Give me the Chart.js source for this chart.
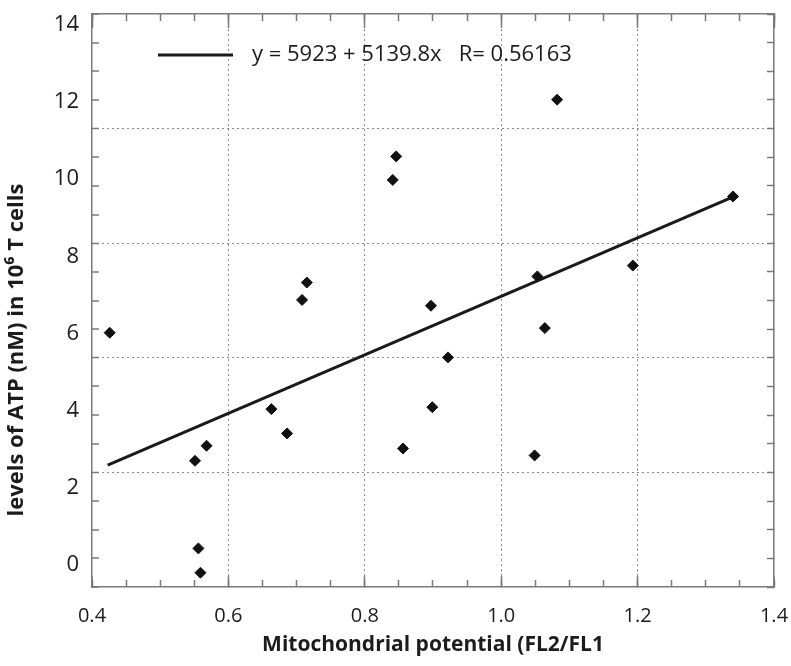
<!DOCTYPE html>
<html>
<head>
<meta charset="utf-8">
<title>ATP vs mitochondrial potential</title>
<script src="https://cdn.jsdelivr.net/npm/chart.js@4.4.1/dist/chart.umd.min.js"></script>
<style>
  body { margin: 0; background: #fff; }
  #wrap { width: 791px; height: 666px; }
</style>
</head>
<body>
<div id="wrap"><canvas id="myChart" width="791" height="666"></canvas></div>
<script>
// mitochondrial potential (FL2/FL1) of each sample
const potential = [0.426, 0.551, 0.568, 0.556, 0.559, 0.663, 0.686, 0.708, 0.715, 0.841, 0.846,
  0.856, 0.897, 0.899, 0.922, 1.049, 1.053, 1.064, 1.082, 1.193, 1.340];
// ATP level of the same samples, read against the printed axis numbers
const atp = [6.02, 2.70, 3.09, 0.43, -0.20, 4.04, 3.41, 6.87, 7.32, 9.98, 10.59,
  3.02, 6.72, 4.09, 5.38, 2.84, 7.48, 6.14, 12.06, 7.76, 9.55];

// the fitted line, its two ends
const fitX = [0.423, 1.340];
const fitY = [2.59, 9.54];
const fitLabel = 'y = 5923 + 5139.8x   R= 0.56163';

// tick labels
const xTicks = [0.4, 0.6, 0.8, 1.0, 1.2, 1.4];
const yTicks = [0, 2, 4, 6, 8, 10, 12, 14];

// y range of the frame, in the units of the printed numbers
const Y_MIN = -0.57;
const Y_MAX = 14.28;

const axisGray = '#7a7a7a';
const gridGray = '#8a8a8a';
const textColor = '#1c1c1c';

Chart.defaults.font.family = "'Open Sans', sans-serif";

// draws the legend line + equation inside the frame
const fitLegend = {
  id: 'fitLegend',
  afterDatasetsDraw(chart) {
    const ctx = chart.ctx;
    const area = chart.chartArea;
    const ds = chart.data.datasets[1];
    const x0 = area.left + 66;
    const y0 = area.top + 41;
    ctx.save();
    ctx.strokeStyle = ds.borderColor;
    ctx.lineWidth = ds.borderWidth;
    ctx.beginPath();
    ctx.moveTo(x0, y0);
    ctx.lineTo(x0 + 75, y0);
    ctx.stroke();
    ctx.fillStyle = textColor;
    ctx.font = "22px 'Open Sans', sans-serif";
    ctx.textBaseline = 'middle';
    ctx.fillText(ds.label, x0 + 94, y0);
    ctx.restore();
  }
};

function innerLine(lo, hi) {
  return function (ctx) {
    if (!ctx.tick) return 0;
    const v = ctx.tick.value;
    return (v > lo + 1e-6 && v < hi - 1e-6) ? 1 : 0;
  };
}

// keep the frame where the axes put it, no extra room for end labels
function noPad(s) {
  s.paddingLeft = 0;
  s.paddingRight = 0;
  s.paddingTop = 0;
  s.paddingBottom = 0;
}

const scatterData = potential.map((x, i) => ({ x: x, y: atp[i] }));
const fitData = fitX.map((x, i) => ({ x: x, y: fitY[i] }));

const config = {
  type: 'scatter',
  data: {
    datasets: [{
      label: 'samples',
      data: scatterData,
      pointStyle: 'rectRot',
      pointRadius: 5.5,
      pointHoverRadius: 5.5,
      backgroundColor: '#111',
      borderColor: '#111',
      borderWidth: 1,
      order: 0
    }, {
      label: fitLabel,
      data: fitData,
      showLine: true,
      borderColor: '#1a1a1a',
      borderWidth: 3,
      pointRadius: 0,
      fill: false,
      order: 1
    }]
  },
  options: {
    responsive: false,
    animation: false,
    devicePixelRatio: 1,
    layout: { padding: { left: 0, right: 17, top: 14, bottom: 0 } },
    plugins: {
      legend: { display: false },
      tooltip: { enabled: false }
    },
    scales: {
      x: {
        type: 'linear',
        position: 'bottom',
        weight: 1,
        min: 0.4,
        max: 1.4,
        afterBuildTicks: s => { s.ticks = xTicks.map(v => ({ value: v })); },
        afterFit: s => { s.height = 79; noPad(s); },
        grid: {
          color: gridGray,
          lineWidth: innerLine(0.4, 1.4),
          tickLength: -11,
          tickColor: axisGray,
          tickWidth: 1.5
        },
        border: { color: axisGray, width: 1.5, dash: [2, 3] },
        ticks: {
          autoSkip: false,
          maxRotation: 0,
          padding: 28,
          color: textColor,
          font: { size: 20 },
          callback: v => v.toFixed(1)
        },
        title: {
          display: true,
          text: 'Mitochondrial potential (FL2/FL1',
          color: textColor,
          font: { size: 21, weight: 'bold' },
          padding: { top: 0, bottom: 8 }
        }
      },
      xMinor: {
        type: 'linear',
        axis: 'x',
        position: 'bottom',
        weight: 0,
        min: 0.4,
        max: 1.4,
        afterFit: s => { s.height = 0; noPad(s); },
        ticks: { display: false, stepSize: 0.05 },
        grid: { drawOnChartArea: false, tickLength: -7, tickColor: axisGray, tickWidth: 1.5 },
        border: { display: false }
      },
      xTop: {
        type: 'linear',
        axis: 'x',
        position: 'top',
        min: 0.4,
        max: 1.4,
        afterFit: s => { s.height = 0; noPad(s); },
        ticks: { display: false, stepSize: 0.05 },
        grid: { drawOnChartArea: false, tickLength: -7, tickColor: axisGray, tickWidth: 1.5 },
        border: { color: axisGray, width: 1.5 }
      },
      xTopMajor: {
        type: 'linear',
        axis: 'x',
        position: 'top',
        min: 0.4,
        max: 1.4,
        afterBuildTicks: s => { s.ticks = xTicks.map(v => ({ value: v })); },
        afterFit: s => { s.height = 0; noPad(s); },
        ticks: { display: false },
        grid: { drawOnChartArea: false, tickLength: -14, tickColor: axisGray, tickWidth: 1.5 },
        border: { display: false }
      },
      y: {
        type: 'linear',
        position: 'left',
        weight: 1,
        min: Y_MIN,
        max: Y_MAX,
        afterBuildTicks: s => { s.ticks = yTicks.map(v => ({ value: v })); },
        afterFit: s => { s.width = 92; noPad(s); },
        grid: { display: false, drawTicks: false },
        border: { color: axisGray, width: 1.5 },
        ticks: {
          autoSkip: false,
          padding: 13,
          color: textColor,
          font: { size: 22 },
          callback: v => String(v)
        },
        title: {
          display: true,
          text: 'levels of ATP (nM) in 10\u2076 T cells' + '\u2002'.repeat(9),
          color: textColor,
          font: { size: 22, weight: 'bold' },
          padding: { top: 4, bottom: 0 }
        }
      },
      // 20 divisions of the frame: inner tick marks and the dotted rows
      yGrid: {
        type: 'linear',
        axis: 'y',
        position: 'left',
        weight: 0,
        min: 0,
        max: 20,
        afterFit: s => { s.width = 0; noPad(s); },
        ticks: { display: false, stepSize: 1 },
        grid: {
          color: gridGray,
          lineWidth: ctx => (ctx.tick && ctx.tick.value % 4 === 0 && ctx.tick.value > 0 && ctx.tick.value < 20) ? 1 : 0,
          tickLength: -7,
          tickColor: axisGray,
          tickWidth: 1.5
        },
        border: { display: false, dash: [2, 3] }
      },
      yRight: {
        type: 'linear',
        axis: 'y',
        position: 'right',
        min: 0,
        max: 20,
        afterFit: s => { s.width = 0; noPad(s); },
        ticks: { display: false, stepSize: 1 },
        grid: { drawOnChartArea: false, tickLength: -7, tickColor: axisGray, tickWidth: 1.5 },
        border: { color: axisGray, width: 1.5 }
      }
    }
  },
  plugins: [fitLegend]
};

const myChart = new Chart(document.getElementById('myChart'), config);
</script>
</body>
</html>
